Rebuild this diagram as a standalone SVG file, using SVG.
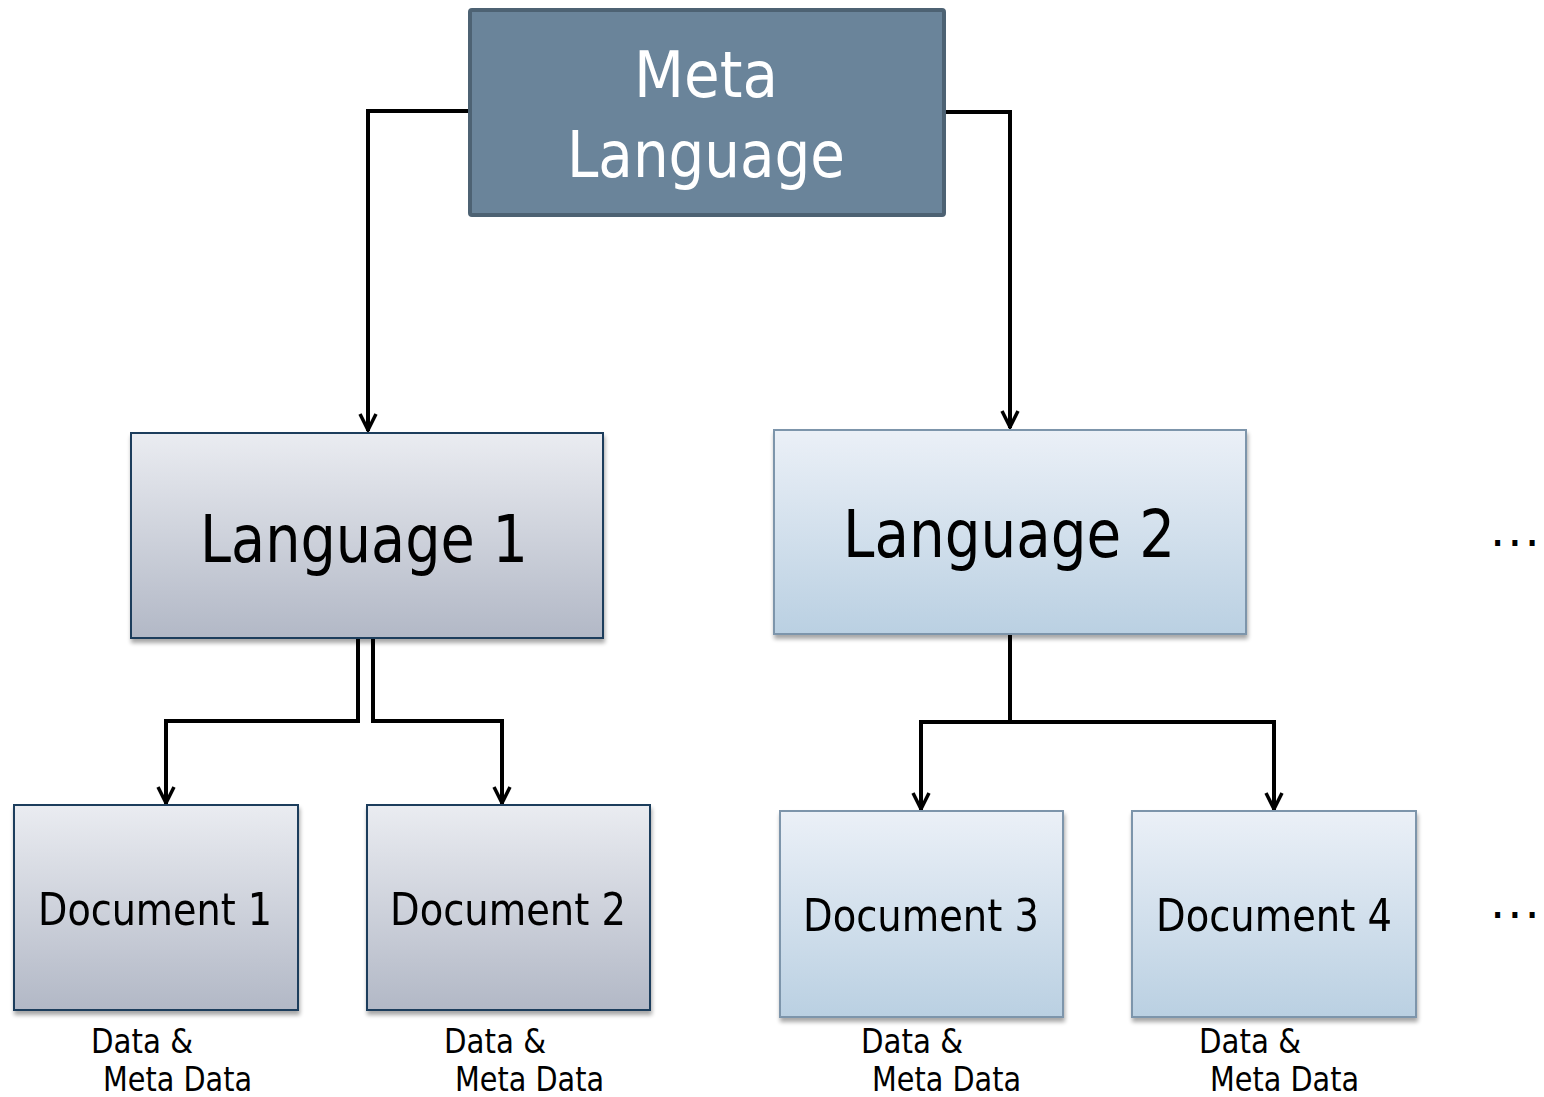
<svg xmlns="http://www.w3.org/2000/svg" width="1544" height="1097" viewBox="0 0 1544 1097">
<defs>
<linearGradient id="g1" x1="0" y1="0" x2="0" y2="1"><stop offset="0" stop-color="#eaecf1"/><stop offset="1" stop-color="#b2b8c6"/></linearGradient>
<linearGradient id="g2" x1="0" y1="0" x2="0" y2="1"><stop offset="0" stop-color="#ebf0f7"/><stop offset="1" stop-color="#bad0e2"/></linearGradient>
<filter id="sh" x="-5%" y="-5%" width="112%" height="115%"><feGaussianBlur in="SourceAlpha" stdDeviation="2"/><feOffset dx="1" dy="4"/><feComponentTransfer><feFuncA type="linear" slope="0.35"/></feComponentTransfer><feMerge><feMergeNode/><feMergeNode in="SourceGraphic"/></feMerge></filter>
<marker id="arr" viewBox="0 0 22 20" refX="20" refY="10" markerWidth="22" markerHeight="20" markerUnits="userSpaceOnUse" orient="auto">
<path d="M3,2 L19,10 L3,18" fill="none" stroke="#000" stroke-width="3.5"/>
</marker>
</defs>
<style>
.t{font-family:"DejaVu Sans Condensed","DejaVu Sans",sans-serif;fill:#000}
.w{fill:#fff}
.c{fill:none;stroke:#000;stroke-width:4}
.b1{fill:url(#g1);stroke:#1e3d5c;stroke-width:2}
.b2{fill:url(#g2);stroke:#7d95ab;stroke-width:2}
.lbl{font-size:34px}
.dots{font-family:"DejaVu Sans",sans-serif;font-size:48px;letter-spacing:2px}
</style>
<rect width="1544" height="1097" fill="#fff"/>
<g id="connectors">
<path class="c" d="M470,111 H368 V431" marker-end="url(#arr)"/>
<path class="c" d="M944,112 H1010 V428" marker-end="url(#arr)"/>
<path class="c" d="M358,638 V721 H166 V804" marker-end="url(#arr)"/>
<path class="c" d="M373,638 V721 H502 V804" marker-end="url(#arr)"/>
<path class="c" d="M1010,634 V722 H921 V810" marker-end="url(#arr)"/>
<path class="c" d="M1010,722 H1274 V810" marker-end="url(#arr)"/>
</g>
<g id="meta-language">
<rect x="470" y="10" width="474" height="205" rx="2" fill="#6a849a" stroke="#4d6273" stroke-width="4"/>
<text class="t w" x="706" y="97" font-size="64" text-anchor="middle" textLength="144" lengthAdjust="spacingAndGlyphs">Meta</text>
<text class="t w" x="706" y="177" font-size="64" text-anchor="middle" textLength="278" lengthAdjust="spacingAndGlyphs">Language</text>
</g>
<g id="language-1" filter="url(#sh)">
<rect class="b1" x="131" y="433" width="472" height="205"/>
<text class="t" x="364" y="562" font-size="66" text-anchor="middle" textLength="328" lengthAdjust="spacingAndGlyphs">Language 1</text>
</g>
<g id="language-2" filter="url(#sh)">
<rect class="b2" x="774" y="430" width="472" height="204"/>
<text class="t" x="1009" y="557" font-size="66" text-anchor="middle" textLength="332" lengthAdjust="spacingAndGlyphs">Language 2</text>
</g>
<g id="document-1" filter="url(#sh)">
<rect class="b1" x="14" y="805" width="284" height="205"/>
<text class="t" x="155" y="925" font-size="44" text-anchor="middle" textLength="234" lengthAdjust="spacingAndGlyphs">Document 1</text>
</g>
<g id="document-2" filter="url(#sh)">
<rect class="b1" x="367" y="805" width="283" height="205"/>
<text class="t" x="508" y="925" font-size="44" text-anchor="middle" textLength="236" lengthAdjust="spacingAndGlyphs">Document 2</text>
</g>
<g id="document-3" filter="url(#sh)">
<rect class="b2" x="780" y="811" width="283" height="206"/>
<text class="t" x="921" y="931" font-size="44" text-anchor="middle" textLength="236" lengthAdjust="spacingAndGlyphs">Document 3</text>
</g>
<g id="document-4" filter="url(#sh)">
<rect class="b2" x="1132" y="811" width="284" height="206"/>
<text class="t" x="1274" y="931" font-size="44" text-anchor="middle" textLength="236" lengthAdjust="spacingAndGlyphs">Document 4</text>
</g>
<g id="labels">
<text class="t lbl" x="91" y="1053" textLength="102" lengthAdjust="spacingAndGlyphs">Data &amp;</text>
<text class="t lbl" x="103" y="1091" textLength="149" lengthAdjust="spacingAndGlyphs">Meta Data</text>
<text class="t lbl" x="444" y="1053" textLength="102" lengthAdjust="spacingAndGlyphs">Data &amp;</text>
<text class="t lbl" x="455" y="1091" textLength="149" lengthAdjust="spacingAndGlyphs">Meta Data</text>
<text class="t lbl" x="861" y="1053" textLength="102" lengthAdjust="spacingAndGlyphs">Data &amp;</text>
<text class="t lbl" x="872" y="1091" textLength="149" lengthAdjust="spacingAndGlyphs">Meta Data</text>
<text class="t lbl" x="1199" y="1053" textLength="102" lengthAdjust="spacingAndGlyphs">Data &amp;</text>
<text class="t lbl" x="1210" y="1091" textLength="149" lengthAdjust="spacingAndGlyphs">Meta Data</text>
</g>
<g id="ellipses">
<text class="dots" x="1490" y="546">...</text>
<text class="dots" x="1490" y="918">...</text>
</g>
</svg>
